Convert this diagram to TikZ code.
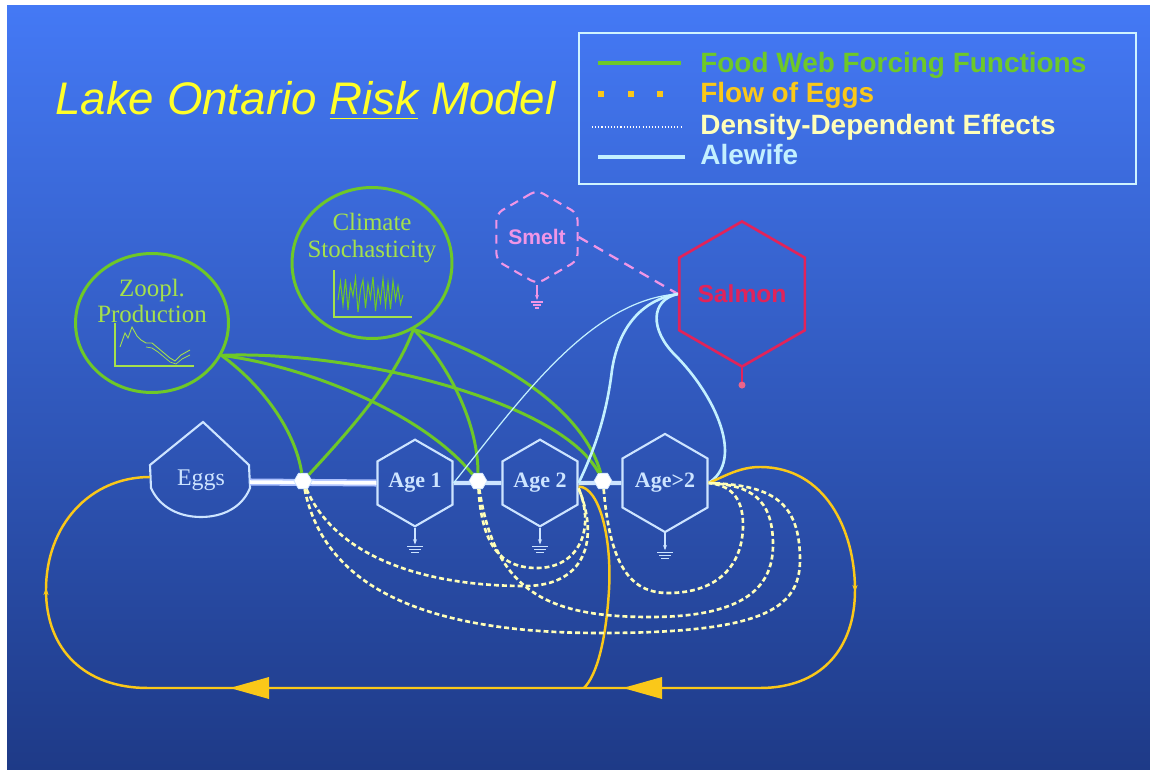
\documentclass[tikz,border=0pt]{standalone}
\usepackage{fontspec}
\setmainfont{Liberation Serif}
\newfontfamily\arialfont{Liberation Sans}
\usetikzlibrary{shapes.geometric,arrows.meta}
\definecolor{bgtop}{RGB}{68,121,245}
\definecolor{bgmid}{RGB}{44,90,205}
\definecolor{bgbot}{RGB}{30,58,135}
\definecolor{titleyellow}{RGB}{255,255,40}
\definecolor{forcegreen}{RGB}{110,200,40}
\definecolor{leafgreen}{RGB}{165,225,75}
\definecolor{eggyellow}{RGB}{250,200,25}
\definecolor{cream}{RGB}{255,255,185}
\definecolor{alecyan}{RGB}{195,240,255}
\definecolor{nodeedge}{RGB}{205,228,255}
\definecolor{smeltpink}{RGB}{240,150,230}
\definecolor{salmonred}{RGB}{225,35,90}

\begin{document}
\begin{tikzpicture}[x=0.02cm, y=-0.02cm,
  hexnode/.style={regular polygon, regular polygon sides=6,
    shape border rotate=30, draw=nodeedge, line width=1.2pt,
    inner sep=0pt, minimum size=1.7cm, text=nodeedge,
    font=\bfseries\fontsize{12.5}{14}\selectfont},
  valve/.style={regular polygon, regular polygon sides=6, fill=white,
    draw=nodeedge, inner sep=0pt, minimum size=0.36cm},
  pool/.style={ellipse, draw=forcegreen, line width=1.7pt},
  pooltext/.style={align=center, text=leafgreen,
    font=\fontsize{14.2}{15.3}\selectfont},
  legtext/.style={anchor=base west, inner sep=0pt,
    font=\arialfont\bfseries\fontsize{15.9}{18}\selectfont},
  forcing/.style={line width=1.7pt, forcegreen},
  eggflow/.style={line width=1.4pt, eggyellow},
  density/.style={line width=1.5pt, cream, dash pattern=on 2.8pt off 1.7pt},
  alewife/.style={line width=1.5pt, alecyan},
  sinkarr/.style={-{Stealth[length=3pt]}, line width=0.6pt},
]
  % background
  \useasboundingbox (0,0) rectangle (1150,770);
  \fill[white] (0,0) rectangle (1150,770);
  \shade[top color=bgtop, middle color=bgmid, bottom color=bgbot]
    (7,6) rectangle (1150,770);

  % title
  \node[anchor=base west, inner sep=0pt, text=titleyellow,
    font=\arialfont\itshape\fontsize{26}{30}\selectfont] (title)
    at (55,115) {Lake Ontario \underline{Risk} Model};

  % legend
  \draw[alecyan!80!white, line width=0.85pt] (579,33) rectangle (1136,184);
  \draw[forcing, line width=2.6pt] (598,63) -- (681,63);
  \node[legtext, text=forcegreen] (lgforce) at (700,73)
    {Food Web Forcing Functions};
  \foreach \x in {601,631,660}
    \fill[eggyellow] (\x-3,91) rectangle (\x+3,97);
  \node[legtext, text=eggyellow] (lgeggs) at (700,103) {Flow of Eggs};
  \draw[white, line width=0.8pt, dash pattern=on 0.6pt off 1.2pt]
    (592,127) -- (681,127);
  \node[legtext, text=cream] (lgdens) at (700,135)
    {Density-Dependent Effects};
  \draw[alewife, line width=1.8pt] (598,157) -- (685,157);
  \node[legtext, text=alecyan] (lgale) at (700,165) {Alewife};

  % forcing pools
  \node[pool, minimum width=3.06cm, minimum height=2.78cm] (zoopl)
    at (152,323) {};
  \node[pooltext] (zoopltxt) at (152,301) {Zoopl.\\Production};
  \draw[leafgreen, line width=0.6pt] (115,323) -- (115,366) -- (194,366);
  \draw[leafgreen, line width=0.5pt] (120,347) -- (125,333) -- (128,338)
    -- (132,327) -- (137,336) -- (141,340) -- (146,343) -- (152,343)
    -- (158,348) -- (164,353) -- (170,358) -- (175,361) -- (181,355)
    -- (190,350);
  \draw[leafgreen, line width=0.4pt] (146,347) -- (152,348) -- (158,352)
    -- (164,357) -- (170,362) -- (176,364) -- (182,359) -- (190,355);

  \node[pool, minimum width=3.2cm, minimum height=3.02cm] (clim)
    at (372,263) {};
  \node[pooltext] (climtxt) at (372,238) {Climate\\Stochasticity};
  \draw[leafgreen, line width=0.6pt] (334,270) -- (334,317) -- (412,317);
  \draw[forcegreen, line width=0.6pt] (338,300)
    \foreach \yy [count=\i] in {282,305,279,310,285,296,278,312,290,280,
      308,284,298,277,311,288,302,279,306,283,309,281,300,286,304,295}
    { -- ({338+2.5*\i},\yy) };

  % predators
  \node[hexnode, draw=smeltpink, dash pattern=on 5pt off 3.5pt,
    rounded corners=4pt, minimum size=1.64cm, text=smeltpink,
    font=\arialfont\bfseries\fontsize{12}{14}\selectfont] (smelt)
    at (537,237) {Smelt};
  \node[hexnode, draw=salmonred, line width=1.5pt, minimum size=2.7cm,
    text=salmonred, font=\arialfont\bfseries\fontsize{14}{16}\selectfont]
    (salmon) at (742,294) {Salmon};

  % alewife stages
  \node[font=\fontsize{13.6}{16}\selectfont, text=nodeedge] (eggs)
    at (201,480) {Eggs};
  \draw[nodeedge, line width=1.2pt] (203,422) -- (150,465) -- (151,488)
    .. controls (160,508) and (180,517) .. (201,517)
    .. controls (222,517) and (242,508) .. (250,488) -- (249,465) -- cycle;
  \coordinate (eggsin) at (150,477);
  \coordinate (eggsout) at (250,482);
  \node[hexnode] (age1) at (415,483) {Age 1};
  \node[hexnode] (age2) at (540,483) {Age 2};
  \node[hexnode] (age3) at (665,483) {Age>2};

  % stem
  \draw[nodeedge!85!blue, line width=1pt, double=white, double distance=2pt]
    (eggsout) -- (age1.west);
  \draw[nodeedge, line width=2.3pt] (age1.east) -- (age2.west);
  \draw[nodeedge, line width=2.3pt] (age2.east) -- (age3.west);
  \node[valve] (j1) at (303,481) {};
  \node[valve] (j2) at (478,481) {};
  \node[valve] (j3) at (603,481) {};

  % sinks
  \foreach \n in {age1,age2,age3}{
    \draw[sinkarr, nodeedge] (\n.south) -- ++(0,17) coordinate (\n-gnd);
    \draw[nodeedge, line width=0.7pt] (\n-gnd) +(-8,2) -- +(8,2)
      +(-6,5) -- +(6,5) +(-4,8) -- +(4,8);
  }
  \draw[sinkarr, smeltpink] (smelt.south) -- ++(0,15) coordinate (smelt-gnd);
  \draw[smeltpink, line width=0.7pt] (smelt-gnd) +(-6,2) -- +(6,2)
    +(-4,5) -- +(4,5) +(-2,8) -- +(2,8);
  \draw[salmonred, line width=0.8pt] (salmon.south) -- ++(0,17)
    coordinate (salmon-gnd);
  \fill[salmonred!70!white] (salmon-gnd) circle[radius=2pt];

  % food web forcing
  \draw[forcing] (zoopl.-25) .. controls (262,385) and (295,430) .. (j1);
  \draw[forcing] (zoopl.-25) .. controls (300,365) and (420,410) .. (j2);
  \draw[forcing] (zoopl.-25) .. controls (350,350) and (560,400) .. (j3);
  \draw[forcing] (clim.-58) .. controls (395,380) and (350,430) .. (j1);
  \draw[forcing] (clim.-58) .. controls (445,360) and (478,420) .. (j2);
  \draw[forcing] (clim.-58) .. controls (480,350) and (580,400) .. (j3);

  % predation on alewife
  \draw[smeltpink, line width=1.3pt, dash pattern=on 6pt off 4pt]
    (smelt.east) -- (salmon.west);
  \draw[alecyan, line width=0.7pt] (salmon.west)
    .. controls (590,300) and (520,400) .. (age1.east);
  \draw[alewife] (salmon.west) .. controls (640,300) and (618,330) .. (612,370)
    .. controls (606,420) and (592,455) .. (age2.east);
  \draw[alewife] (salmon.west) .. controls (650,300) and (650,330) .. (675,355)
    .. controls (715,395) and (745,460) .. (age3.east);

  % flow of eggs
  \draw[eggflow] (age3.east) .. controls (725,476) and (740,467) .. (760,467)
    .. controls (825,467) and (855,530) .. (855,590)
    .. controls (855,650) and (820,688) .. (760,688) -- (148,688)
    .. controls (85,688) and (46,650) .. (46,590)
    .. controls (46,525) and (90,477) .. (eggsin);
  \draw[eggflow] ([yshift=-2pt]age2.east)
    .. controls (600,487) and (612,540) .. (609,590)
    .. controls (606,640) and (597,675) .. (584,688);
  \fill[eggyellow] (230,688) -- (269,677) -- (269,699) -- cycle;
  \fill[eggyellow] (623,688) -- (662,677) -- (662,699) -- cycle;
  \draw[eggflow, -{Stealth[length=4pt]}] (46,596) -- (46,588);
  \draw[eggflow, -{Stealth[length=4pt]}] (855,584) -- (855,592);

  % density-dependent effects
  \draw[density] (j1) .. controls (335,555) and (420,586) .. (525,586)
    .. controls (585,586) and (600,540) .. ([yshift=-3pt]age2.east);
  \draw[density] (j2) .. controls (482,545) and (500,568) .. (537,568)
    .. controls (578,568) and (596,530) .. ([yshift=-3pt]age2.east);
  \draw[density] (j3) .. controls (610,565) and (630,593) .. (668,593)
    .. controls (718,593) and (743,565) .. (743,525)
    .. controls (743,495) and (728,485) .. (age3.east);
  \draw[density] (j2) .. controls (495,590) and (545,617) .. (650,617)
    .. controls (740,617) and (773,590) .. (773,545)
    .. controls (773,498) and (750,485) .. (age3.east);
  \draw[density] (j1) .. controls (325,590) and (430,633) .. (600,633)
    .. controls (760,633) and (800,610) .. (800,560)
    .. controls (800,500) and (770,485) .. (age3.east);
\end{tikzpicture}
\end{document}
